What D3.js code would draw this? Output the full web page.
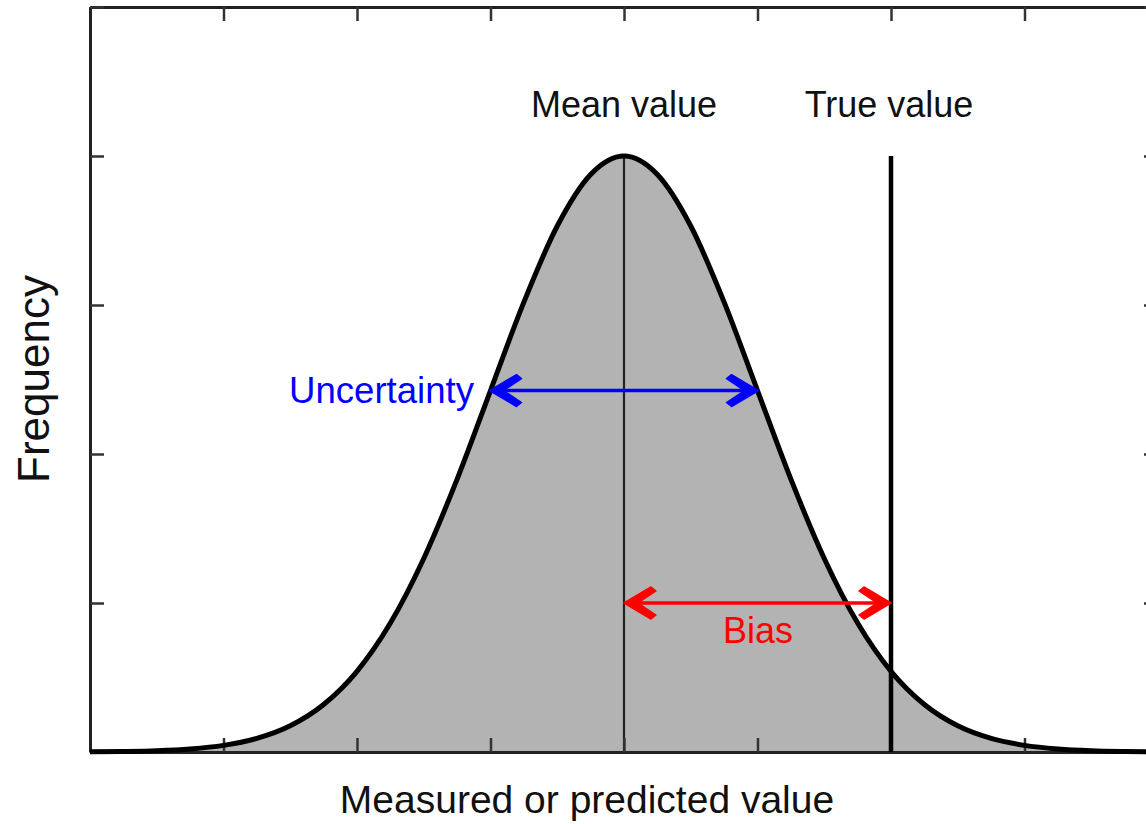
<!DOCTYPE html>
<html>
<head>
<meta charset="utf-8">
<script src="https://cdn.jsdelivr.net/npm/d3@7"></script>
<style>
  body { margin: 0; background: #fff; }
  svg { display: block; font-family: "Liberation Sans", Arial, sans-serif; }
</style>
</head>
<body>
<div class="container"></div>
<script>
//=================================================
// Data (x in units of sigma, y relative to peak)
//=================================================
var curveX = [-4, -3.75, -3.5, -3.25, -3, -2.75, -2.5, -2.25, -2, -1.75, -1.5, -1.25, -1, -0.75, -0.5, -0.25,
              0, 0.25, 0.5, 0.75, 1, 1.25, 1.5, 1.75, 2, 2.25, 2.5, 2.75, 3, 3.25, 3.5, 3.75, 4];
var curveY = [0.0003, 0.0009, 0.0022, 0.0051, 0.0111, 0.0228, 0.0439, 0.0796, 0.1353, 0.2163, 0.3247, 0.4578, 0.6065, 0.7548, 0.8825, 0.9690,
              1, 0.9690, 0.8825, 0.7548, 0.6065, 0.4578, 0.3247, 0.2163, 0.1353, 0.0796, 0.0439, 0.0228, 0.0111, 0.0051, 0.0022, 0.0009, 0.0003];
var xTicks = [-4, -3, -2, -1, 0, 1, 2, 3, 4];
var yTicks = [0, 0.25, 0.5, 0.75, 1, 1.25];
var meanValue = 0;
var trueValue = 2;
var peakValue = 1;
var uncertaintyRange = [-1, 1];
var uncertaintyLevel = 0.6065;
var biasLevel = 0.25;

//=================================================
// Dimensions
//=================================================
var width = 1146, height = 824;
var plotLeft = 90, plotRight = 1158, plotTop = 7, plotBottom = 752;

var xScale = d3.scaleLinear().domain([-4, 4]).range([plotLeft, plotRight]);
var yScale = d3.scaleLinear().domain([0, 1.25]).range([plotBottom, plotTop]);

const svg = d3.select(".container").
append("svg").
attr("width", width).
attr("height", height);

var points = curveX.map((x, i) => [x, curveY[i]]);

//=================================================
// Filled area
//=================================================
svg.append("path").
datum(points).
attr("fill", "#b3b3b3").
attr("d", d3.area().x(d => xScale(d[0])).y0(yScale(0)).y1(d => yScale(d[1])).curve(d3.curveMonotoneX));

// mean line
svg.append("line").
attr("x1", xScale(meanValue)).attr("x2", xScale(meanValue)).
attr("y1", yScale(peakValue)).attr("y2", yScale(0)).
attr("stroke", "#222").attr("stroke-width", 2.2);

//=================================================
// Frame axes (ticks inward, no labels)
//=================================================
svg.append("g").attr("transform", "translate(0," + plotBottom + ")").
call(d3.axisBottom(xScale).tickValues(xTicks).tickFormat("").tickSizeInner(-14).tickSizeOuter(0));
svg.append("g").attr("transform", "translate(0," + plotTop + ")").
call(d3.axisTop(xScale).tickValues(xTicks).tickFormat("").tickSizeInner(-14).tickSizeOuter(0));
svg.append("g").attr("transform", "translate(" + plotLeft + ",0)").
call(d3.axisLeft(yScale).tickValues(yTicks).tickFormat("").tickSizeInner(-14).tickSizeOuter(0));
svg.append("g").attr("transform", "translate(" + plotRight + ",0)").
call(d3.axisRight(yScale).tickValues(yTicks).tickFormat("").tickSizeInner(-14).tickSizeOuter(0));
svg.selectAll(".tick line").attr("stroke", "#333").attr("stroke-width", 2.5);
svg.selectAll(".domain").attr("stroke", "#222").attr("stroke-width", 3);

// curve line
svg.append("path").
datum(points).
attr("fill", "none").
attr("stroke", "#000").
attr("stroke-width", 5).
attr("d", d3.line().x(d => xScale(d[0])).y(d => yScale(d[1])).curve(d3.curveMonotoneX));

// true value line
svg.append("line").
attr("x1", xScale(trueValue)).attr("x2", xScale(trueValue)).
attr("y1", yScale(peakValue)).attr("y2", yScale(0)).
attr("stroke", "#000").attr("stroke-width", 4.5);

//=================================================
// Double arrows
//=================================================
function arrowHead(g, x, y, dir) {
  // dir = 1 points left, -1 points right
  const p = [[0, 0], [27, -16], [32, -12], [14, 0], [32, 12], [27, 16]].
  map(d => [x + dir * d[0], y + d[1]]);
  g.append("path").attr("d", d3.line()(p) + "Z").attr("fill", g.attr("stroke")).
  attr("stroke-width", 1.5).attr("stroke-linejoin", "round");
}
function doubleArrow(x1, x2, y, color) {
  const g = svg.append("g").attr("stroke", color).attr("fill", "none");
  g.append("line").attr("x1", x1 + 4).attr("x2", x2 - 4).attr("y1", y).attr("y2", y).attr("stroke-width", 3.5);
  arrowHead(g, x1, y, 1);
  arrowHead(g, x2, y, -1);
}
doubleArrow(xScale(uncertaintyRange[0]) - 1, xScale(uncertaintyRange[1]) + 1, yScale(uncertaintyLevel), "#0000ff");
doubleArrow(xScale(meanValue), xScale(trueValue), yScale(biasLevel), "#ff0000");

//=================================================
// Text
//=================================================
svg.append("text").attr("x", xScale(meanValue)).attr("y", 117).attr("text-anchor", "middle").
attr("font-size", 36).attr("fill", "#111").text("Mean value");
svg.append("text").attr("x", xScale(trueValue) - 2).attr("y", 117).attr("text-anchor", "middle").
attr("font-size", 36).attr("fill", "#111").text("True value");
svg.append("text").attr("x", 474).attr("y", 403).attr("text-anchor", "end").
attr("font-size", 36.6).attr("fill", "#0000ff").text("Uncertainty");
svg.append("text").attr("x", 758).attr("y", 643).attr("text-anchor", "middle").
attr("font-size", 36).attr("fill", "#ff0000").text("Bias");
svg.append("text").attr("transform", "translate(49,379) rotate(-90)").attr("text-anchor", "middle").
attr("font-size", 44).attr("fill", "#111").text("Frequency");
svg.append("text").attr("x", 587).attr("y", 813).attr("text-anchor", "middle").
attr("font-size", 39).attr("fill", "#111").text("Measured or predicted value");
</script>
</body>
</html>
